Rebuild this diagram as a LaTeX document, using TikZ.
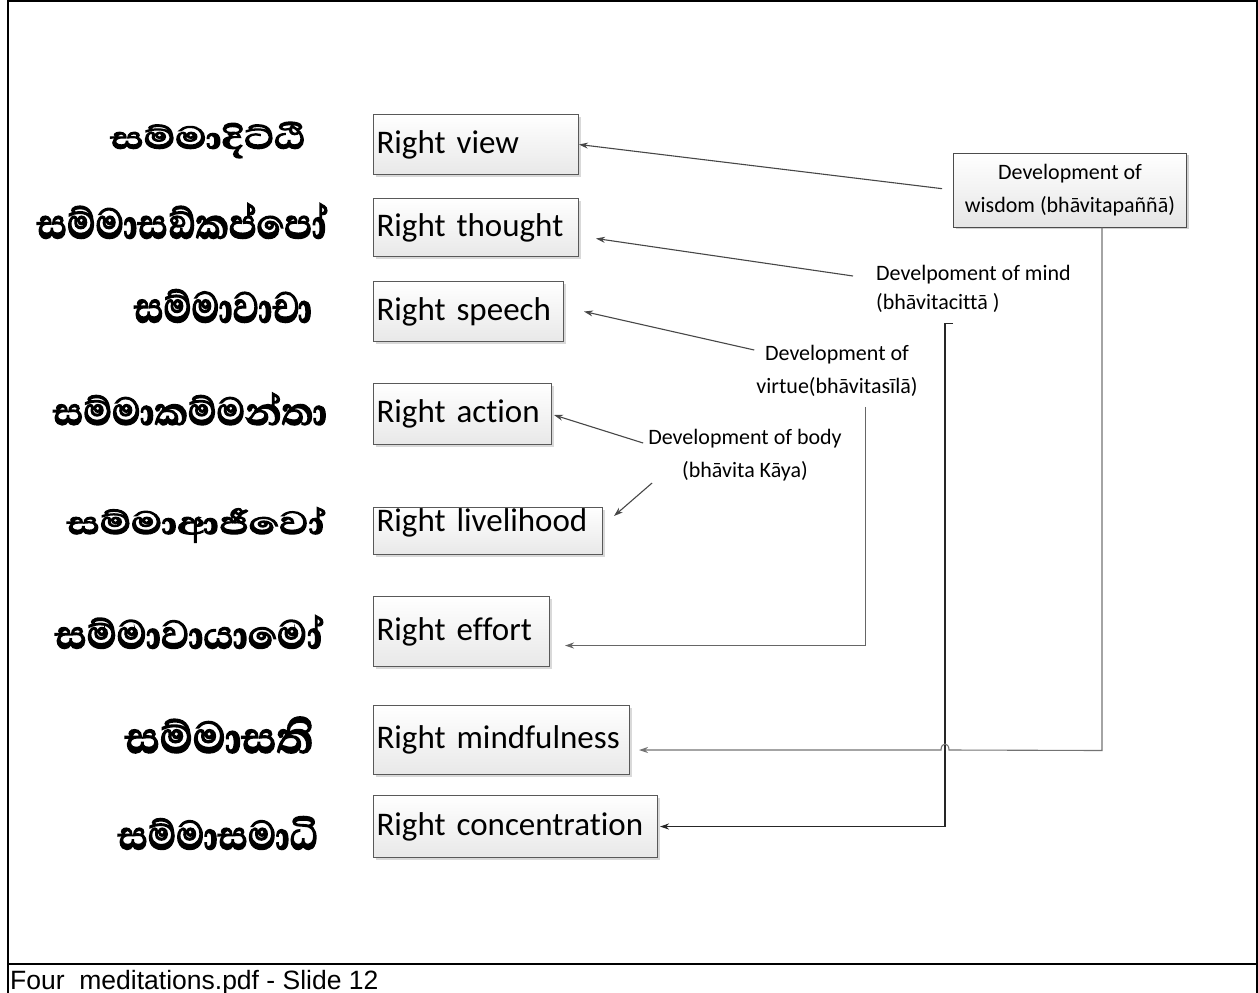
\documentclass[tikz,border=0pt]{standalone}
\usepackage{fontspec}
\setmainfont{Carlito}[Ligatures=NoCommon]
\newfontfamily\sinhalafont[Script=Sinhala, BoldFeatures={FakeBold=3}]{Abhaya Libre}
\newfontfamily\capfont{Liberation Sans}
\usetikzlibrary{arrows.meta,calc,shadows}

% Pali term, stretched to a fixed width and height
\newcommand\pali[3]{\resizebox*{#1pt}{#2pt}{\sinhalafont\bfseries #3}}

\tikzset{
  frame/.style={line width=2pt, draw=black},
  pathbox/.style={draw=black!65, line width=1pt, top color=white, bottom color=black!9,
    anchor=north west, inner xsep=3pt, inner ysep=0pt, align=left,
    font=\fontsize{33}{36}\selectfont,
    drop shadow={shadow xshift=2pt, shadow yshift=-2pt, opacity=0.25, fill=black!60}},
  devbox/.style={draw=black!70, line width=1pt, top color=white, bottom color=black!10,
    minimum width=233pt, minimum height=74pt, inner sep=0pt, align=center,
    font=\fontsize{22}{33}\selectfont,
    drop shadow={shadow xshift=2pt, shadow yshift=-2pt, opacity=0.3, fill=black!60}},
  devtext/.style={inner sep=0pt, font=\fontsize{22}{33}\selectfont},
  term/.style={inner sep=0pt, anchor=center},
  arr/.style={draw=black!72, line width=1.1pt, -{Stealth[length=9pt,width=6pt]}},
}

\begin{document}
\begin{tikzpicture}[x=1pt,y=-1pt]
\useasboundingbox (0,0) rectangle (1258,993);

% slide frame and caption strip
\draw[frame] (8,995) -- (8,1) -- (1257,1) -- (1257,995);
\draw[frame] (8,964) -- (1257,964);
\node[anchor=base west, inner sep=0pt, font=\capfont\fontsize{26.5}{30}\selectfont] (cap) at (10,989) {Four~~meditations.pdf - Slide 12};

% Pali names of the eight factors
\node[term] (p1) at (208,140) {\pali{195}{36}{සම්මාදිට්ඨි}};
\node[term] (p2) at (182,221) {\pali{290}{35}{සම්මාසඞ්කප්පෝ}};
\node[term] (p3) at (223,306) {\pali{178}{33}{සම්මාවාචා}};
\node[term] (p4) at (190,409) {\pali{274}{32}{සම්මාකම්මන්තා}};
\node[term] (p5) at (196,525) {\pali{258}{35}{සම්මාආජීවෝ}};
\node[term] (p6) at (189,632) {\pali{268}{33}{සම්මාවායාමෝ}};
\node[term] (p7) at (219,735) {\pali{188}{36}{සම්මාසති}};
\node[term] (p8) at (218,833) {\pali{200}{33}{සම්මාසමාධි}};

% English names of the eight factors
\node[pathbox, text width=199pt, minimum height=60pt] (view)    at (373,114) {Right view};
\node[pathbox, text width=199pt, minimum height=58pt] (thought) at (373,198) {Right thought};
\node[pathbox, text width=184pt, minimum height=60pt] (speech)  at (373,281) {Right speech};
\node[pathbox, text width=172pt, minimum height=61pt] (action)  at (373,383) {Right action};
\node[pathbox, text width=223pt, minimum height=47pt] (live)    at (373,507) {\raisebox{0pt}[0pt][0pt]{Right livelihood}};
\node[pathbox, text width=170pt, minimum height=70pt] (effort)  at (373,596) {Right effort};
\node[pathbox, text width=250pt, minimum height=69pt] (mindful) at (373,705) {Right mindfulness};
\node[pathbox, text width=278pt, minimum height=62pt] (conc)    at (373,795) {Right concentration};

% the four developments
\node[devbox] (wis) at (1070,190) {Development of\\wisdom (bh\={a}vitapa\~{n}\~{n}\={a})};
\node[devtext, anchor=west, align=left, font=\fontsize{22}{29}\selectfont] (mind) at (876,289) {Develpoment of mind\\(bh\={a}vitacitt\={a} )};
\node[devtext, align=center] (virt) at (837,371) {Development of\\virtue(bh\={a}vitas\={\i}l\={a})};
\node[devtext, align=center] (body) at (745,455) {Development of body\\(bh\={a}vita K\={a}ya)};

% connectors
\draw[arr, shorten <=11pt] (wis.west) -- (view.east);
\draw[arr] ($(mind.west)+(-23,-13)$) -- ($(thought.east)+(17,11)$);
\draw[arr] ($(virt.west)+(-2,-21)$) -- ($(speech.east)+(20,0)$);
\draw[arr] ($(body.west)+(-5,-12)$) -- ($(action.east)+(2,1)$);
\draw[arr] ($(body.west)+(4,28)$) -- ($(live.east)+(11,-15)$);
\draw[arr, draw=black!60] ($(virt.south east)+(-52,10)$) |- ($(effort.east)+(15,14)$);
\draw[arr, draw=black!85] ($(mind.south west)+(77,11)$) -- ++(-8,0) |- ($(conc.east)+(2,0)$);
\draw[arr, draw=black!55] ($(wis.south)+(32,0)$) -- ++(0,523) -- (949,750)
  .. controls (949,742) and (941,742) .. (941,750) -- ($(mindful.east)+(9,10)$);
\end{tikzpicture}
\end{document}
